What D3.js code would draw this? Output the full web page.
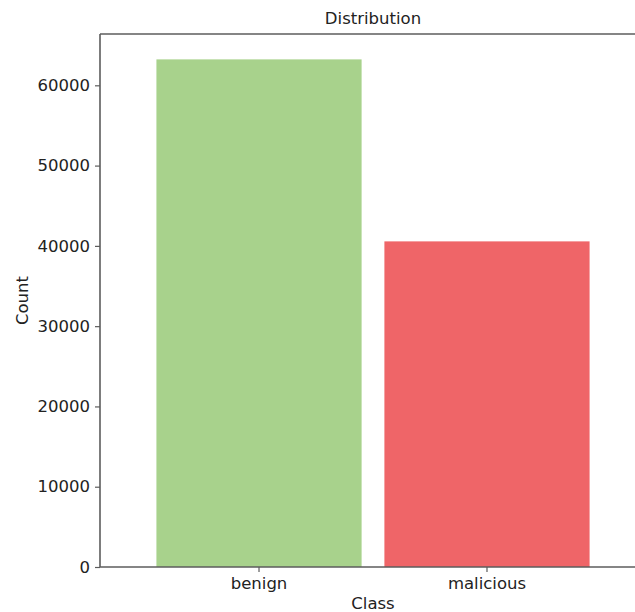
<!DOCTYPE html>
<html>
<head>
<meta charset="utf-8">
<script src="https://cdn.jsdelivr.net/npm/d3@7"></script>
<style>
  html, body { margin: 0; padding: 0; background: #fff; overflow: hidden; }
  svg { display: block; font-family: "DejaVu Sans", sans-serif; overflow: hidden; }
</style>
</head>
<body>
<script>
const categories = ["benign", "malicious"];
const counts = [63230, 40560];
const colors = ["#a8d28c", "#ef6568"];
const yTicks = [0, 10000, 20000, 30000, 40000, 50000, 60000];
const title = "Distribution";
const xLabel = "Class";
const yLabel = "Count";

const W = 635, H = 612;
const margin = { left: 100, top: 34, right: -11, bottom: 45 };
const plotW = W - margin.left - margin.right;
const plotH = H - margin.top - margin.bottom;

const svg = d3.select("body").append("svg").attr("width", W).attr("height", H);
svg.append("rect").attr("width", W).attr("height", H).attr("fill", "#fff");
const g = svg.append("g").attr("transform", `translate(${margin.left},${margin.top})`);

const x = d3.scaleBand().domain(categories).range([0, plotW]).paddingInner(0.1).paddingOuter(0.2475);
const y = d3.scaleLinear().domain([0, d3.max(counts) * 1.05]).range([plotH, 0]);

g.selectAll("rect.bar").data(categories).enter().append("rect")
  .attr("class", "bar")
  .attr("x", d => x(d))
  .attr("width", x.bandwidth())
  .attr("y", (d, i) => y(counts[i]))
  .attr("height", (d, i) => plotH - y(counts[i]))
  .attr("fill", (d, i) => colors[i]);

const spineColor = "#5c5c5c";
const yAxis = g.append("g").call(d3.axisLeft(y).tickValues(yTicks).tickFormat(d3.format("d")).tickSize(5).tickPadding(5));
const xAxis = g.append("g").attr("transform", `translate(0,${plotH})`)
  .call(d3.axisBottom(x).tickSize(5).tickPadding(5));
[yAxis, xAxis].forEach(a => {
  a.selectAll(".domain").remove();
  a.selectAll(".tick line").attr("stroke", spineColor).attr("stroke-width", 1.2);
  a.selectAll(".tick text").attr("fill", "#222").style("font-size", "16.5px").style("font-family", "'DejaVu Sans', sans-serif");
});

// spines: left, bottom and top (the right spine falls outside the view)
const visibleRight = W - margin.left;
g.append("line").attr("x1", 0).attr("x2", 0).attr("y1", 0).attr("y2", plotH).attr("stroke", spineColor).attr("stroke-width", 1.6);
g.append("line").attr("x1", 0).attr("x2", visibleRight).attr("y1", plotH).attr("y2", plotH).attr("stroke", spineColor).attr("stroke-width", 1.6);
g.append("line").attr("x1", 0).attr("x2", visibleRight).attr("y1", 0).attr("y2", 0).attr("stroke", spineColor).attr("stroke-width", 1.6);

svg.append("text").attr("x", margin.left + plotW / 2).attr("y", 24)
  .attr("text-anchor", "middle").attr("fill", "#222").style("font-size", "16.5px").text(title);
svg.append("text").attr("x", margin.left + plotW / 2).attr("y", 609)
  .attr("text-anchor", "middle").attr("fill", "#222").style("font-size", "16.5px").text(xLabel);
svg.append("text").attr("transform", `translate(28,${margin.top + plotH / 2}) rotate(-90)`)
  .attr("text-anchor", "middle").attr("fill", "#222").style("font-size", "16.5px").text(yLabel);
</script>
</body>
</html>
